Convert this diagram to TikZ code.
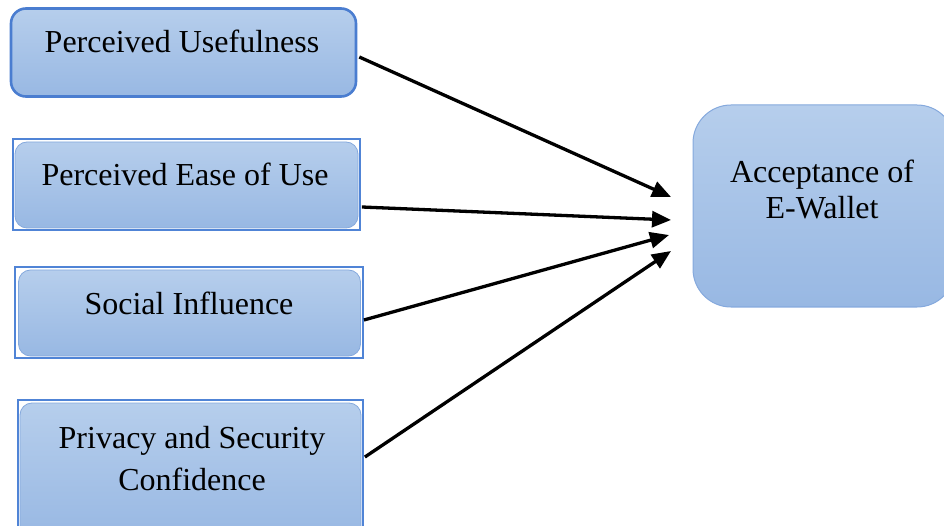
\documentclass[tikz,border=0pt]{standalone}
\usepackage{fontspec}
\setmainfont{Liberation Serif}
\usetikzlibrary{arrows.meta,calc}
\definecolor{fillTop}{HTML}{B6CEEC}
\definecolor{fillBot}{HTML}{98B8E3}
\definecolor{edgeDark}{HTML}{4A7DD0}
\definecolor{edgeMid}{HTML}{5084D6}
\definecolor{edgeLight}{HTML}{85A9DD}
\tikzset{
  shadedbox/.style={rectangle, top color=fillTop, bottom color=fillBot, inner sep=0pt},
  mainbox/.style={shadedbox, draw=edgeDark, line width=2.6pt, rounded corners=15pt},
  innerbox/.style={shadedbox, draw=edgeLight, line width=0.8pt, rounded corners=12pt},
  framebox/.style={rectangle, draw=edgeMid, line width=1.8pt, inner sep=0pt},
  accbox/.style={shadedbox, draw=edgeLight, line width=1pt, rounded corners=38pt},
  label/.style={font=\fontsize{32}{40}\selectfont, align=center, inner sep=0pt, anchor=base},
  arr/.style={line width=3.3pt, -{Triangle[length=19pt,width=16pt]}},
}
\begin{document}
\begin{tikzpicture}[x=1pt,y=-1pt]
\clip (0,0) rectangle (944,526);
\useasboundingbox (0,0) rectangle (944,526);
% Box 1
\node[mainbox, minimum width=345pt, minimum height=88pt] (pu) at (183.5,52.5) {};
\node[label] (pul) at (182,53) {Perceived Usefulness};
% Box 2
\node[innerbox, minimum width=343pt, minimum height=86pt] (peoi) at (186.5,185) {};
\node[framebox, minimum width=347pt, minimum height=91pt] (peo) at (186.5,184.5) {};
\node[label] (peol) at (185,186) {Perceived Ease of Use};
% Box 3
\node[innerbox, minimum width=342pt, minimum height=86pt] (sii) at (189.5,313) {};
\node[framebox, minimum width=348pt, minimum height=91pt] (si) at (189,312.5) {};
\node[label] (sil) at (189,314) {Social Influence};
% Box 4
\node[innerbox, minimum width=341pt, minimum height=135pt] (psi) at (190.5,470.5) {};
\node[framebox, minimum width=345pt, minimum height=140pt] (ps) at (190.5,470) {};
\node[label, font=\fontsize{32}{42}\selectfont] (psl) at (192,490) {Privacy and Security\\Confidence};
% Box 5
\node[accbox, minimum width=262pt, minimum height=202pt] (acc) at (824,206) {};
\node[label, font=\fontsize{32}{36}\selectfont] (accl) at (822,219) {Acceptance of\\E-Wallet};
% arrow targets
\coordinate (t1) at (671,197);
\coordinate (t2) at (671,220);
\coordinate (t3) at (669,235);
\coordinate (t4) at (671,251);
% arrows
\draw[arr] ($(pu.east)+(2,4.5)$) -- (t1);
\draw[arr] ($(peo.east)+(1,22.5)$) -- (t2);
\draw[arr] ($(si.east)+(0,7.5)$) -- (t3);
\draw[arr] ($(ps.east)+(1,-13)$) -- (t4);
\end{tikzpicture}
\end{document}
